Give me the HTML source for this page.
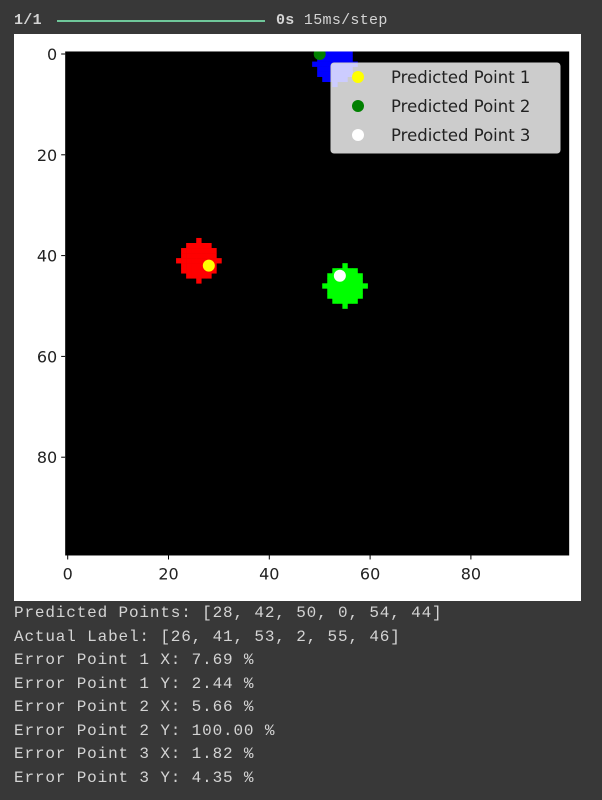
<!DOCTYPE html>
<html><head><meta charset="utf-8">
<style>
body{margin:0;width:602px;height:800px;background:#383838;overflow:hidden;font-family:"Liberation Mono","DejaVu Sans Mono",monospace;color:#d4d4d4}
.line{position:absolute;left:14px;font-size:16px;letter-spacing:0.85px;white-space:pre}
.top{position:absolute;font-size:15px;white-space:pre;letter-spacing:0.3px}
</style></head>
<body>
<div class="top" style="top:12px;left:14px;font-weight:bold">1/1</div>
<div style="position:absolute;left:57px;top:20px;width:208px;height:2px;background:#6fc79a"></div>
<div class="top" style="top:12px;left:276px"><b>0s</b> 15ms/step</div>
<svg style="position:absolute;left:0;top:0" width="602" height="610">
<rect x="14" y="34" width="567" height="567" fill="#fff"/>
<g id="plot"></g>
</svg>
<div class="line" style="top:604px">Predicted Points: [28, 42, 50, 0, 54, 44]</div>
<div class="line" style="top:628px">Actual Label: [26, 41, 53, 2, 55, 46]</div>
<div class="line" style="top:651px">Error Point 1 X: 7.69 %</div>
<div class="line" style="top:675px">Error Point 1 Y: 2.44 %</div>
<div class="line" style="top:698px">Error Point 2 X: 5.66 %</div>
<div class="line" style="top:722px">Error Point 2 Y: 100.00 %</div>
<div class="line" style="top:745px">Error Point 3 X: 1.82 %</div>
<div class="line" style="top:769px">Error Point 3 Y: 4.35 %</div>
<script>
const blobX=[26,53,55];
const blobY=[41,2,46];
const blobColors=["#ff0000","#0000ff","#00ff00"];
const predX=[28,50,54];
const predY=[42,0,44];
const predColors=["#ffff00","#008000","#ffffff"];
const predLabels=["Predicted Point 1","Predicted Point 2","Predicted Point 3"];
const xTicks=[0,20,40,60,80];
const yTicks=[0,20,40,60,80];

const NS="http://www.w3.org/2000/svg";
const g=document.getElementById('plot');
const S=5.04, X0=67.7, Y0=54;
const sx=v=>X0+v*S, sy=v=>Y0+v*S;
function mk(t,a,p){const e=document.createElementNS(NS,t);for(const k in a)e.setAttribute(k,a[k]);(p||g).appendChild(e);return e;}
const bg=mk('rect',{x:sx(-0.5),y:sy(-0.5),width:100*S,height:100*S,fill:'#000'});


const clip=mk('clipPath',{id:'cp'});mk('rect',{x:sx(-0.5),y:sy(-0.5),width:100*S,height:100*S},clip);
const blobs=mk('g',{'clip-path':'url(#cp)'});
for(let i=0;i<blobX.length;i++){
  for(let dx=-4;dx<=4;dx++)for(let dy=-4;dy<=4;dy++){
    const d=dx*dx+dy*dy;
    if(d<=13||(d===16&&(dx===0||dy===0))){
      const r=mk('rect',{x:sx(blobX[i]+dx-0.5),y:sy(blobY[i]+dy-0.5),width:S+0.3,height:S+0.3,fill:blobColors[i]},blobs);
      
      
    }
  }
}
for(let i=0;i<predX.length;i++){
  const c=mk('circle',{cx:sx(predX[i]),cy:sy(predY[i]),r:6,fill:predColors[i]},blobs);
  
  
}
xTicks.forEach(t=>{
  mk('line',{x1:sx(t),x2:sx(t),y1:sy(99.5),y2:sy(99.5)+4,stroke:'#000'});
  const tx=mk('text',{x:sx(t),y:sy(99.5)+24,'text-anchor':'middle','font-size':16,'font-family':'DejaVu Sans, Liberation Sans, sans-serif',fill:'#222'});
  tx.textContent=t;
  
  
});
yTicks.forEach(t=>{
  mk('line',{x1:sx(-0.5)-4,x2:sx(-0.5),y1:sy(t),y2:sy(t),stroke:'#000'});
  const tx=mk('text',{x:sx(-0.5)-8,y:sy(t)+6,'text-anchor':'end','font-size':16,'font-family':'DejaVu Sans, Liberation Sans, sans-serif',fill:'#222'});
  tx.textContent=t;
  
  
});
const lg=mk('g',{});


mk('rect',{x:331,y:63,width:229,height:90,rx:3,fill:'#fff','fill-opacity':0.8,stroke:'#ccc'},lg);
predLabels.forEach((l,i)=>{
  const y=77+i*29;
  mk('circle',{cx:358,cy:y,r:6,fill:predColors[i]},lg);
  const t=mk('text',{x:391,y:y+6,'font-size':16.5,'font-family':'DejaVu Sans, Liberation Sans, sans-serif',fill:'#222'},lg);
  t.textContent=l;
  
  
});
</script>
</body></html>
